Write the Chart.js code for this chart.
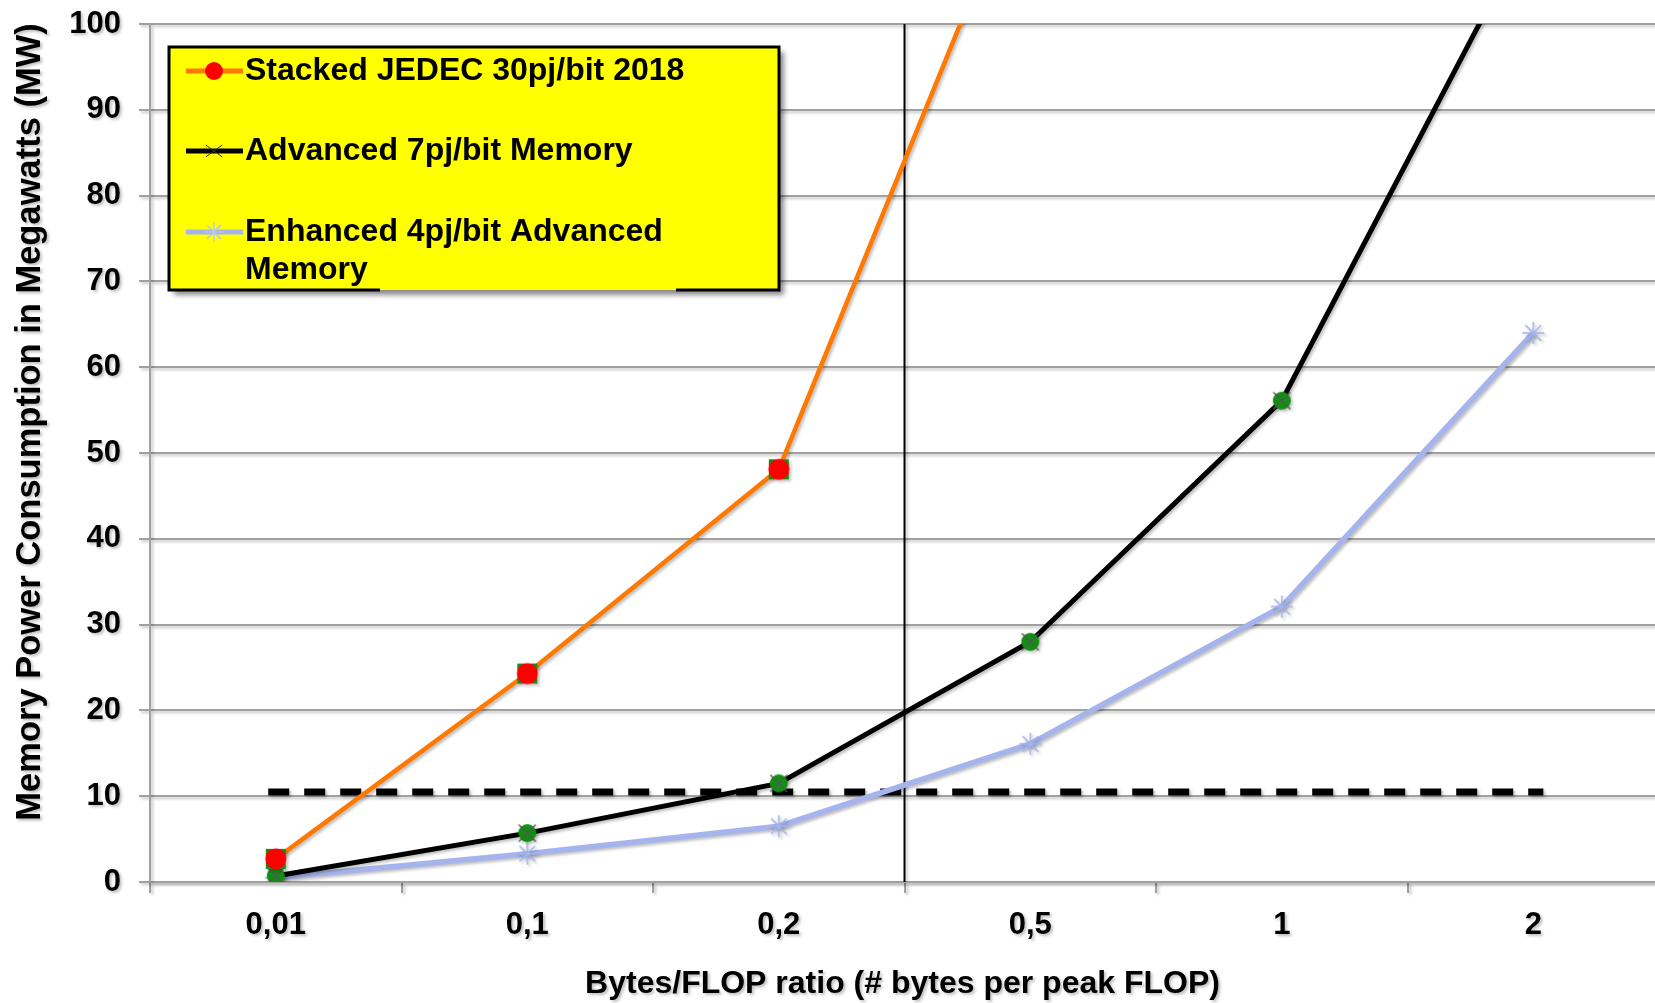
<!DOCTYPE html>
<html>
<head>
<meta charset="utf-8">
<title>Memory power consumption vs Bytes/FLOP</title>
<script src="https://cdn.jsdelivr.net/npm/chart.js@4.4.1/dist/chart.umd.min.js"></script>
<style>
  html, body { margin: 0; padding: 0; background: #fff; }
  canvas { display: block; }
</style>
</head>
<body>
<canvas id="myChart" width="1655" height="1003"></canvas>
<script>
// bytes per peak FLOP, one slot per category
const ratioLabels = ["0,01", "0,1", "0,2", "0,5", "1", "2"];

// memory power in MW
const jedec30 = [2.7, 24.3, 48.1, 120, null, null];
const adv7 = [0.7, 5.7, 11.5, 28.0, 56.1, 112];
const enh4 = [0.5, 3.3, 6.5, 16.1, 32.1, 64.0];

const seriesNames = [
    ["Stacked JEDEC 30pj/bit 2018"],
    ["Advanced 7pj/bit Memory"],
    ["Enhanced 4pj/bit Advanced", "Memory"]
];

// 10 MW budget line and the split between 0,2 and 0,5
const powerLimit = 10.5;
const limitSpan = [-0.03, 5.04];
const dividerAt = 2.5;

const yMin = 0, yMax = 100, yStep = 10;

const ORANGE = "#ff7800";
const BLUE = "#a5b4ec";
const GRID = "#a0a0a0";
const FONT = "'Liberation Sans', Arial, sans-serif";

function marker(size, paint) {
    var c = document.createElement("canvas");
    c.width = c.height = size;
    paint(c.getContext("2d"), size / 2);
    return c;
}

function star(c, m, len, color, width, angles) {
    c.strokeStyle = color;
    c.lineWidth = width;
    angles.forEach(function(a) {
        var dx = Math.cos(a) * len / 2, dy = Math.sin(a) * len / 2;
        c.beginPath();
        c.moveTo(m - dx, m - dy);
        c.lineTo(m + dx, m + dy);
        c.stroke();
    });
}

// red dot sitting on a green square
const jedecDot = marker(24, function(c, m) {
    c.fillStyle = "#149014";
    c.fillRect(m - 10, m - 10, 20, 20);
    c.fillStyle = "#ff0000";
    c.beginPath();
    c.arc(m, m, 10.5, 0, Math.PI * 2);
    c.fill();
});

const advDot = marker(28, function(c, m) {
    c.fillStyle = "#109010";
    c.beginPath();
    c.arc(m, m, 9, 0, Math.PI * 2);
    c.fill();
    star(c, m, 24, "#555", 1.2, [Math.PI / 4, -Math.PI / 4]);
});

const enhStar = marker(26, function(c, m) {
    star(c, m, 22, BLUE, 1.6, [0, Math.PI / 4, Math.PI / 2, -Math.PI / 4]);
});

const toPoints = arr => arr.map((v, i) => ({x: i, y: v}));

// shadows under text and lines
const softShadow = {
    id: "softShadow",
    beforeDraw(chart) {
        var c = chart.ctx;
        c.shadowColor = "rgba(0,0,0,0.25)";
        c.shadowOffsetX = 2;
        c.shadowOffsetY = 2;
        c.shadowBlur = 3;
    },
    afterDatasetsDraw(chart) {
        var c = chart.ctx;
        c.shadowColor = "rgba(0,0,0,0)";
        c.shadowBlur = 0;
        c.shadowOffsetX = 0;
        c.shadowOffsetY = 0;
    }
};

const yTitle = {
    id: "yTitle",
    afterDraw(chart) {
        var c = chart.ctx;
        c.save();
        c.shadowColor = "rgba(0,0,0,0.25)";
        c.shadowOffsetX = 2;
        c.shadowOffsetY = 2;
        c.shadowBlur = 3;
        c.translate(30, 422);
        c.rotate(-Math.PI / 2);
        c.font = "bold 34.5px " + FONT;
        c.fillStyle = "#000";
        c.textAlign = "center";
        c.textBaseline = "middle";
        c.fillText("Memory Power Consumption in Megawatts (MW)", 0, 0);
        c.restore();
    }
};

// yellow legend box, drawn by hand so the last entry can wrap
const boxLegend = {
    id: "boxLegend",
    afterDraw(chart) {
        var c = chart.ctx;
        var left = 169, top = 47, right = 779, bottom = 290;
        c.save();
        c.shadowColor = "rgba(0,0,0,0.45)";
        c.shadowOffsetX = 5;
        c.shadowOffsetY = 5;
        c.shadowBlur = 5;
        c.fillStyle = "#ffff00";
        c.fillRect(left, top, right - left, bottom - top);
        c.restore();

        c.save();
        c.strokeStyle = "#000";
        c.lineWidth = 3;
        c.beginPath();
        c.moveTo(380, bottom);
        c.lineTo(left, bottom);
        c.lineTo(left, top);
        c.lineTo(right, top);
        c.lineTo(right, bottom);
        c.lineTo(676, bottom);
        c.stroke();

        var rows = [71, 151, 232];
        var colors = [ORANGE, "#000", BLUE];
        rows.forEach(function(y, i) {
            c.strokeStyle = colors[i];
            c.lineWidth = 5;
            c.beginPath();
            c.moveTo(186, y);
            c.lineTo(243, y);
            c.stroke();
            c.save();
            c.translate(214, y);
            if (i === 0) {
                c.fillStyle = "#ff0000";
                c.beginPath();
                c.arc(0, 0, 9, 0, Math.PI * 2);
                c.fill();
            } else if (i === 1) {
                star(c, 0, 20, "#333", 1, [Math.PI / 5, -Math.PI / 5]);
            } else {
                star(c, 0, 20, "#b8c4f4", 1.4, [0, Math.PI / 4, Math.PI / 2, -Math.PI / 4]);
            }
            c.restore();
            c.fillStyle = "#000";
            c.font = "bold 32px " + FONT;
            c.textAlign = "left";
            c.textBaseline = "middle";
            seriesNames[i].forEach(function(line, k) {
                c.fillText(line, 245, y + k * 38);
            });
        });
        c.restore();
    }
};

new Chart("myChart", {
    type: "line",
    data: {
        datasets: [{
            label: seriesNames[0].join(" "),
            data: toPoints(jedec30),
            borderColor: ORANGE,
            borderWidth: 4.5,
            pointStyle: jedecDot,
            pointRadius: 10,
            order: 0
        }, {
            label: seriesNames[1].join(" "),
            data: toPoints(adv7),
            borderColor: "#000",
            borderWidth: 5,
            pointStyle: advDot,
            pointRadius: 10,
            order: 0
        }, {
            label: seriesNames[2].join(" "),
            data: toPoints(enh4),
            borderColor: BLUE,
            borderWidth: 5.5,
            pointStyle: enhStar,
            pointRadius: 10,
            order: 0
        }, {
            label: "limit",
            data: limitSpan.map(x => ({x: x, y: powerLimit})),
            borderColor: "#000",
            borderWidth: 7,
            borderDash: [21, 15],
            borderCapStyle: "butt",
            pointRadius: 0,
            order: 1
        }, {
            label: "divider",
            data: [{x: dividerAt, y: yMin}, {x: dividerAt, y: yMax}],
            borderColor: "#000",
            borderWidth: 2,
            pointRadius: 0,
            order: 1
        }]
    },
    options: {
        responsive: false,
        animation: false,
        layout: {autoPadding: false, padding: {top: 24, right: 0, bottom: 0, left: 0}},
        plugins: {
            legend: {display: false},
            tooltip: {enabled: false}
        },
        scales: {
            x: {
                type: "linear",
                min: -0.5,
                max: 5.484,
                afterBuildTicks: function(scale) {
                    var t = [];
                    for (var v = -0.5; v <= ratioLabels.length - 1; v += 0.5) t.push({value: v});
                    scale.ticks = t;
                },
                afterFit: function(scale) {
                    scale.height = 121;
                    scale.paddingLeft = 0;
                    scale.paddingRight = 0;
                },
                ticks: {
                    autoSkip: false,
                    maxRotation: 0,
                    padding: 14,
                    color: "#000",
                    font: {family: FONT, size: 31, weight: "bold"},
                    callback: function(value) {
                        return Number.isInteger(value) ? ratioLabels[value] : "";
                    }
                },
                grid: {
                    drawOnChartArea: false,
                    drawTicks: true,
                    tickLength: 11,
                    lineWidth: 2,
                    color: ctx => (ctx.tick && Number.isInteger(ctx.tick.value)) ? "rgba(0,0,0,0)" : GRID
                },
                border: {color: GRID, width: 2},
                title: {
                    display: true,
                    text: "Bytes/FLOP ratio (# bytes per peak FLOP)",
                    color: "#000",
                    font: {family: FONT, size: 32, weight: "bold"},
                    padding: {top: 0, bottom: 0}
                }
            },
            y: {
                min: yMin,
                max: yMax,
                afterFit: function(scale) {
                    scale.width = 150;
                    scale.paddingTop = 0;
                    scale.paddingBottom = 0;
                },
                ticks: {
                    stepSize: yStep,
                    padding: 18,
                    color: "#000",
                    font: {family: FONT, size: 31, weight: "bold"}
                },
                grid: {
                    color: GRID,
                    lineWidth: 2,
                    tickLength: 11
                },
                border: {color: GRID, width: 2}
            }
        }
    },
    plugins: [softShadow, yTitle, boxLegend]
});
</script>
</body>
</html>
